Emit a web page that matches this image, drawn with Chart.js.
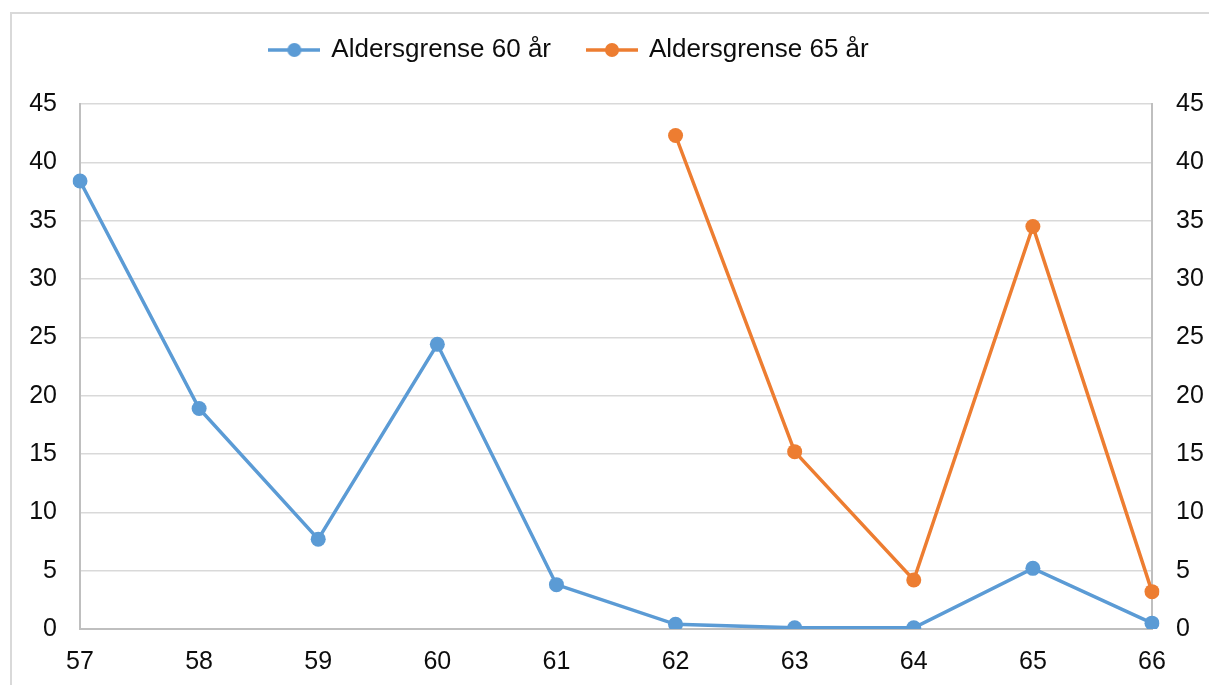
<!DOCTYPE html>
<html>
<head>
<meta charset="utf-8">
<script src="https://cdn.jsdelivr.net/npm/chart.js@4"></script>
<style>
  html, body { margin: 0; padding: 0; background: #fff; overflow: hidden; width: 1209px; height: 685px; }
  #frame { position: absolute; left: 10px; top: 12px; width: 1400px; height: 900px; border: 2px solid #d9d9d9; box-sizing: border-box; }
  #chart { position: absolute; left: -70px; top: 0; }
</style>
</head>
<body>
<div id="frame"></div>
<canvas id="chart" width="1279" height="685"></canvas>
<script>
// Age (x axis)
const ages = ['57', '58', '59', '60', '61', '62', '63', '64', '65', '66'];
// Series
const limit60 = [38.4, 18.9, 7.7, 24.4, 3.8, 0.4, 0.1, 0.1, 5.2, 0.5];
const limit65 = [null, null, null, null, null, 42.3, 15.2, 4.2, 34.5, 3.2];
const seriesNames = ['Aldersgrense 60 år', 'Aldersgrense 65 år'];
const seriesColors = ['#5b9bd5', '#ed7d31'];
// Value axis
const yMin = 0, yMax = 45, yStep = 5;

const FONT = "'Liberation Sans', Arial, sans-serif";
const TEXT = '#0d0d0d';

// Legend marker: a short line with a dot in the middle
function legendIcon(color) {
  const c = document.createElement('canvas');
  c.width = 52; c.height = 18;
  const g = c.getContext('2d');
  g.strokeStyle = color; g.lineWidth = 3.5;
  g.beginPath(); g.moveTo(0, 9); g.lineTo(52, 9); g.stroke();
  g.fillStyle = color;
  g.beginPath(); g.arc(26, 9, 7, 0, Math.PI * 2); g.fill();
  return c;
}
const icons = seriesColors.map(legendIcon);

function lineSet(label, data, color, axis) {
  return {
    label, data, yAxisID: axis,
    borderColor: color, backgroundColor: color,
    borderWidth: 3.5, pointRadius: 7.5, pointHoverRadius: 7.5,
    pointBorderWidth: 0, pointBackgroundColor: color,
    spanGaps: false, tension: 0
  };
}

new Chart(document.getElementById('chart'), {
  type: 'line',
  data: {
    labels: ages,
    datasets: [
      lineSet(seriesNames[0], limit60, seriesColors[0], 'y'),
      lineSet(seriesNames[1], limit65, seriesColors[1], 'y2')
    ]
  },
  options: {
    responsive: false,
    animation: false,
    devicePixelRatio: 1,
    layout: { padding: 0 },
    plugins: {
      tooltip: { enabled: false },
      legend: {
        position: 'top',
        labels: {
          usePointStyle: true,
          pointStyleWidth: 48,
          padding: 37,
          color: TEXT,
          font: { family: FONT, size: 26 },
          generateLabels(chart) {
            const items = Chart.defaults.plugins.legend.labels.generateLabels(chart);
            items.forEach(it => { it.pointStyle = icons[it.datasetIndex]; });
            return items;
          }
        }
      },
      // blank spacer between legend and plot area
      subtitle: {
        display: true, text: '', weight: 0,
        font: { size: 10, lineHeight: 1 },
        padding: { top: 0, bottom: 21 }
      }
    },
    scales: {
      x: {
        type: 'category',
        offset: false,
        grid: { display: false, drawTicks: false },
        border: { display: true, color: '#bfbfbf', width: 2 },
        ticks: { color: TEXT, font: { family: FONT, size: 25 }, padding: 18, maxRotation: 0, autoSkip: false },
        afterFit(s) { s.height = 56; }
      },
      y: {
        position: 'left',
        min: yMin, max: yMax,
        grid: { color: '#d9d9d9', lineWidth: 1.5, drawTicks: false },
        border: { display: true, color: '#bfbfbf', width: 2 },
        ticks: { stepSize: yStep, color: TEXT, font: { family: FONT, size: 25 }, padding: 23 },
        afterFit(s) { s.width = 150; }
      },
      y2: {
        position: 'right',
        min: yMin, max: yMax,
        grid: { display: false, drawTicks: false },
        border: { display: true, color: '#bfbfbf', width: 2 },
        ticks: { stepSize: yStep, color: TEXT, font: { family: FONT, size: 25 }, padding: 24 },
        afterFit(s) { s.width = 57; }
      }
    }
  }
});
</script>
</body>
</html>
